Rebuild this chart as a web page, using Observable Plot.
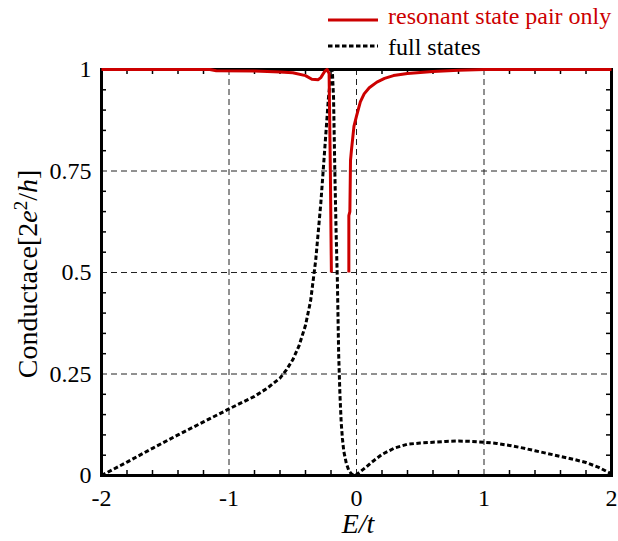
<!DOCTYPE html>
<html>
<head>
<meta charset="utf-8">
<script src="https://cdn.jsdelivr.net/npm/d3@7"></script>
<script src="https://cdn.jsdelivr.net/npm/@observablehq/plot@0.6"></script>
<style>
  html, body { margin: 0; padding: 0; background: #fff; }
  #chart { width: 618px; height: 541px; }
</style>
</head>
<body>
<div id="chart"></div>
<script>
// ---- data ----
const xTicks = [-2, -1, 0, 1, 2];
const yTicks = [0, 0.25, 0.5, 0.75, 1];
const xGrid = [-1, 0, 1];
const yGrid = [0.25, 0.5, 0.75];

// full states (black dashed)
const fullX = [-2, -1.8, -1.6, -1.4, -1.2, -1.0, -0.8, -0.7, -0.6, -0.55, -0.5, -0.45, -0.4, -0.36, -0.32, -0.28, -0.25, -0.22, -0.2, -0.19,
  -0.18, -0.17, -0.16, -0.15, -0.14, -0.13, -0.12, -0.11, -0.10, -0.08, -0.06, -0.04, -0.02, 0,
  0.04, 0.08, 0.12, 0.2, 0.3, 0.4, 0.5, 0.6, 0.7, 0.8, 0.9, 1.0, 1.1, 1.2, 1.3, 1.4, 1.5, 1.6, 1.7, 1.8, 1.9, 2.0];
const fullY = [0, 0.033, 0.067, 0.1, 0.132, 0.164, 0.195, 0.215, 0.24, 0.26, 0.285, 0.32, 0.37, 0.43, 0.53, 0.67, 0.8, 0.93, 0.99, 1.0,
  0.93, 0.75, 0.6, 0.48, 0.3, 0.2, 0.13, 0.09, 0.06, 0.03, 0.012, 0.004, 0.001, 0.002,
  0.012, 0.022, 0.033, 0.052, 0.068, 0.077, 0.08, 0.082, 0.084, 0.085, 0.084, 0.082, 0.079, 0.074, 0.068, 0.061, 0.054, 0.047, 0.04, 0.032, 0.02, 0.004];

// resonant state pair only (red solid); null = gap
const resX = [-2, -1.5, -1.15, -1.1, -0.8, -0.6, -0.5, -0.4, -0.35, -0.3, -0.28, -0.25, -0.23, -0.215, -0.205, -0.197,
  -0.13,
  -0.06, -0.06, -0.052, -0.047, -0.04, -0.02, 0.0, 0.03, 0.06, 0.1, 0.16, 0.22, 0.29, 0.4, 0.6, 0.8, 1.0, 2.0];
const resY = [1.0, 1.0, 1.0, 0.997, 0.996, 0.994, 0.992, 0.985, 0.976, 0.975, 0.98, 0.995, 1.0, 0.99, 0.75, 0.5,
  null,
  0.5, 0.64, 0.65, 0.776, 0.8, 0.86, 0.885, 0.92, 0.94, 0.955, 0.969, 0.978, 0.985, 0.99, 0.995, 0.998, 1.0, 1.0];

const fullData = fullX.map((x, i) => ({x, y: fullY[i]}));
const resData = resX.map((x, i) => ({x, y: resY[i]}));

// ---- layout ----
const W = 618, H = 541;
const mL = 101, mR = 7, mT = 69, mB = 66;
const innerH = H - mT - mB, innerW = W - mL - mR;
const RED = "#cc0000";
const FONT = "'Liberation Serif', 'Times New Roman', serif";
const DASH = "4.5,2.5";

const xMinor = d3.range(-2, 2.0001, 0.2).map(v => +v.toFixed(2)).filter(v => !xTicks.includes(v));
const yMinor = d3.range(0, 1.0001, 0.05).map(v => +v.toFixed(2)).filter(v => !yTicks.includes(v));
const minorLen = 5;

const chart = Plot.plot({
  width: W, height: H,
  marginLeft: mL, marginRight: mR, marginTop: mT, marginBottom: mB,
  x: {domain: [-2, 2]},
  y: {domain: [0, 1]},
  style: {fontFamily: FONT, fontSize: "24px", background: "#fff", color: "#000", overflow: "visible"},
  marks: [
    Plot.ruleX(xGrid, {x: d => d, stroke: "#222", strokeWidth: 1, strokeDasharray: "6,4"}),
    Plot.ruleY(yGrid, {y: d => d, stroke: "#222", strokeWidth: 1, strokeDasharray: "6,4"}),
    // inward minor ticks on all four sides
    Plot.tickX(xMinor, {x: d => d, insetTop: innerH - minorLen, stroke: "#000", strokeWidth: 1.5}),
    Plot.tickX(xMinor, {x: d => d, insetBottom: innerH - minorLen, stroke: "#000", strokeWidth: 1.5}),
    Plot.tickY(yMinor, {y: d => d, insetRight: innerW - minorLen, stroke: "#000", strokeWidth: 1.5}),
    Plot.tickY(yMinor, {y: d => d, insetLeft: innerW - minorLen, stroke: "#000", strokeWidth: 1.5}),
    Plot.frame({stroke: "#000", strokeWidth: 3}),
    Plot.axisX(xTicks, {anchor: "bottom", tickSize: 0, tickPadding: 13, tickFormat: d => String(d), fontSize: 24, label: null}),
    Plot.axisY(yTicks, {anchor: "left", tickSize: 0, tickPadding: 10, tickFormat: d => String(d), fontSize: 24, label: null}),
    Plot.line(fullData, {x: "x", y: "y", stroke: "#000", strokeWidth: 3, strokeDasharray: DASH, strokeLinecap: "butt", strokeLinejoin: "miter", curve: "linear"}),
    Plot.line(resData, {x: "x", y: "y", stroke: RED, strokeWidth: 3, strokeLinecap: "butt", curve: "linear"})
  ]
});

document.getElementById("chart").appendChild(chart);

// ---- titles & legend ----
const svg = d3.select(chart);
const t = svg.append("g").attr("font-family", FONT).attr("fill", "#000");

// y label
const yl = t.append("text")
  .attr("transform", `translate(37,${mT + innerH / 2 + 2}) rotate(-90)`)
  .attr("text-anchor", "middle")
  .attr("font-size", 28);
yl.append("tspan").text("Conductace[2");
yl.append("tspan").attr("font-style", "italic").text("e");
yl.append("tspan").attr("font-size", 19).attr("dy", "-0.55em").text("2");
yl.append("tspan").attr("dy", "0.37em").text("/");
yl.append("tspan").attr("font-style", "italic").text("h");
yl.append("tspan").text("]");

// x label
t.append("text")
  .attr("x", mL + innerW / 2 + 2).attr("y", 533)
  .attr("text-anchor", "middle")
  .attr("font-size", 28)
  .attr("font-style", "italic")
  .text("E/t");

// legend
const lg = svg.append("g").attr("font-family", FONT).attr("font-size", 24).attr("text-anchor", "start");
lg.append("line").attr("x1", 328).attr("x2", 378).attr("y1", 20).attr("y2", 20)
  .attr("stroke", RED).attr("stroke-width", 3);
lg.append("text").attr("x", 388).attr("y", 24).attr("text-anchor", "start").attr("fill", RED).text("resonant state pair only");
lg.append("line").attr("x1", 328).attr("x2", 378).attr("y1", 46).attr("y2", 46)
  .attr("stroke", "#000").attr("stroke-width", 3).attr("stroke-dasharray", DASH);
lg.append("text").attr("x", 388).attr("y", 55).attr("text-anchor", "start").attr("fill", "#000").text("full states");
</script>
</body>
</html>
